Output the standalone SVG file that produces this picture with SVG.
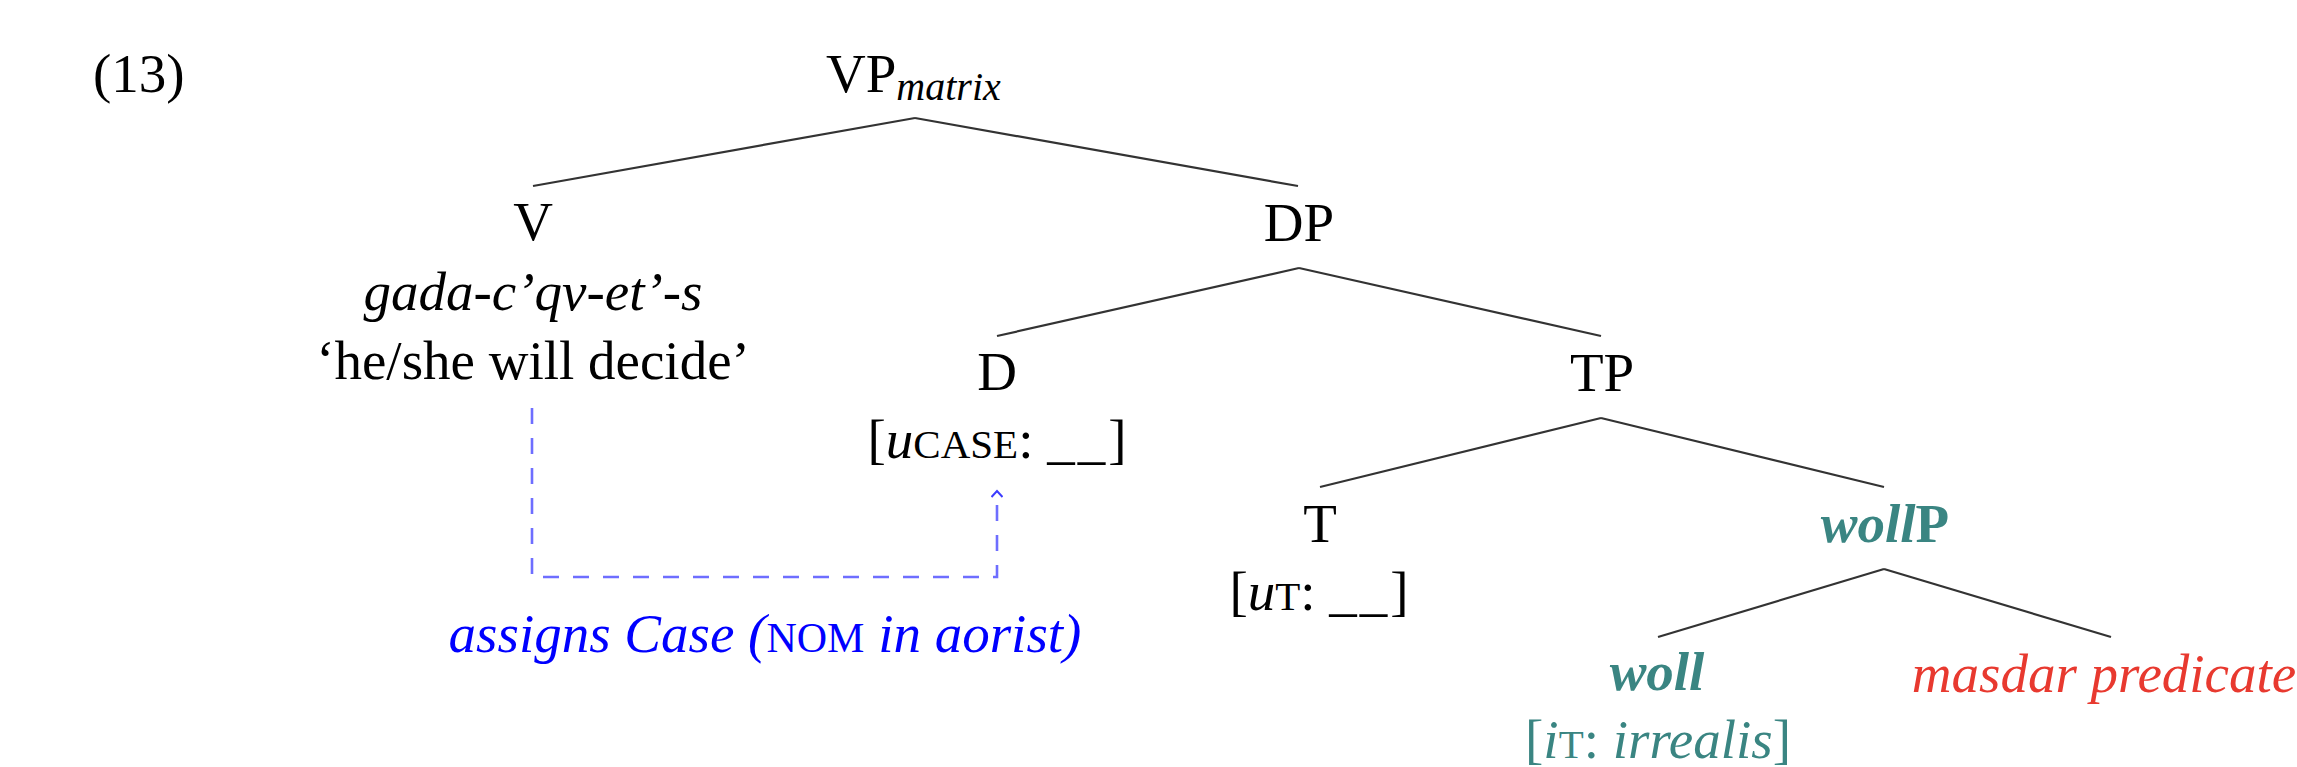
<svg xmlns="http://www.w3.org/2000/svg" width="2297" height="767" viewBox="0 0 2297 767">
<style>
text{font-family:"Liberation Serif","Times New Roman",serif;font-size:55px;fill:#000}
.c{text-anchor:middle}
.it{font-style:italic}
.sc{font-size:41px}
.sub{font-size:40px;font-style:italic}
.blank{letter-spacing:3px}
.teal{fill:#3a8582}
.red{fill:#e8392f}
.blue{fill:#0000ff}
.edge{stroke:#333;stroke-width:2.2;fill:none}
.dash{stroke:#6e6eff;stroke-width:2.6;fill:none;stroke-dasharray:16 14}
</style>
<defs>
<marker id="arr" viewBox="0 0 12 12" refX="9" refY="6" markerWidth="12" markerHeight="12" markerUnits="userSpaceOnUse" orient="auto">
<path d="M3,0.5 L9,6 L3,11.5" fill="none" stroke="#3c3cff" stroke-width="2"/>
</marker>
</defs>
<text id="ex" x="93" y="92">(13)</text>
<g id="connectors">
<line class="edge" x1="915" y1="118" x2="533" y2="186"/>
<line class="edge" x1="915" y1="118" x2="1298" y2="186"/>
<line class="edge" x1="1299" y1="268" x2="997" y2="336"/>
<line class="edge" x1="1299" y1="268" x2="1601" y2="336"/>
<line class="edge" x1="1601" y1="418" x2="1320" y2="487"/>
<line class="edge" x1="1601" y1="418" x2="1884" y2="487"/>
<line class="edge" x1="1884" y1="569" x2="1658" y2="637"/>
<line class="edge" x1="1884" y1="569" x2="2111" y2="637"/>
<path class="dash" d="M532,408 V577 H997 V491" marker-end="url(#arr)"/>
</g>
<g id="n-vp"><text x="826" y="92">VP<tspan class="sub" dy="8">matrix</tspan></text></g>
<g id="n-v">
<text class="c" x="533" y="240">V</text>
<text class="c it" x="533" y="310">gada-c’qv-et’-s</text>
<text class="c" x="533" y="379">‘he/she will decide’</text>
</g>
<g id="n-dp"><text class="c" x="1299" y="241">DP</text></g>
<g id="n-d">
<text class="c" x="997" y="390">D</text>
<text class="c" x="997" y="458">[<tspan class="it">u</tspan><tspan class="sc">CASE</tspan>: <tspan class="blank">__</tspan>]</text>
</g>
<g id="n-tp"><text class="c" x="1602" y="391">TP</text></g>
<g id="n-t">
<text class="c" x="1320" y="542">T</text>
<text class="c" x="1319" y="610">[<tspan class="it">u</tspan><tspan class="sc">T</tspan>: <tspan class="blank">__</tspan>]</text>
</g>
<g id="n-wollp"><text class="c teal" x="1885" y="542" font-weight="bold"><tspan font-style="italic">woll</tspan>P</text></g>
<g id="n-woll">
<text class="c teal it" x="1657" y="690" font-weight="bold">woll</text>
<text class="c teal" x="1658" y="758">[<tspan class="it">i</tspan><tspan class="sc">T</tspan>: <tspan class="it">irrealis</tspan>]</text>
</g>
<g id="n-masdar"><text class="c it red" x="2104" y="692">masdar predicate</text></g>
<g id="label-case"><text class="c blue" x="765" y="652" font-size="56.5"><tspan class="it">assigns Case (</tspan><tspan font-size="42">NOM</tspan><tspan class="it"> in aorist)</tspan></text></g>
</svg>
